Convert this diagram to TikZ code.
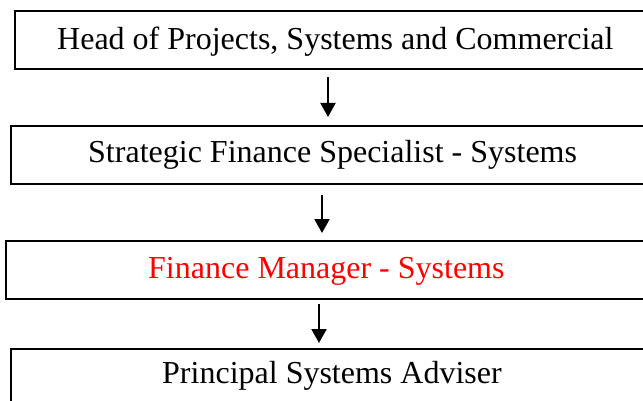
\documentclass[tikz,border=0pt]{standalone}
\usepackage{fontspec}
\setmainfont{Liberation Serif}
\usetikzlibrary{arrows.meta,calc}
\begin{document}
\begin{tikzpicture}[x=1pt,y=1pt,
  box/.style={draw=black,line width=2pt,minimum width=700pt,minimum height=58pt,inner sep=0pt,anchor=north west},
  lbl/.style={anchor=base west,inner sep=0pt,font=\fontsize{32}{38}\selectfont,text=black},
  arr/.style={line width=2pt,-{Triangle[width=15pt,length=14pt]}}]
\clip (0,0) rectangle (643,-401);
\useasboundingbox (0,0) rectangle (643,-401);
\node[box] (b1) at (14,-10) {};
\node[box] (b2) at (10,-125) {};
\node[box] (b3) at (5,-240) {};
\node[box] (b4) at (10,-348) {};
\node[lbl] (t1) at (57,-50) {Head of Projects, Systems and Commercial};
\node[lbl] (t2) at (88,-163) {Strategic Finance Specialist - Systems};
\node[lbl,text=red] (t3) at (148,-278) {Finance Manager - Systems};
\node[lbl] (t4) at (162,-383) {Principal Systems Adviser};
\coordinate (a1) at (328,0);
\coordinate (a2) at (322,0);
\coordinate (a3) at (319,0);
\draw[arr,shorten <=7pt,shorten >=8pt] (a1 |- b1.south) -- (a1 |- b2.north);
\draw[arr,shorten <=10pt,shorten >=7pt] (a2 |- b2.south) -- (a2 |- b3.north);
\draw[arr,shorten <=4pt,shorten >=5pt] (a3 |- b3.south) -- (a3 |- b4.north);
\end{tikzpicture}
\end{document}
